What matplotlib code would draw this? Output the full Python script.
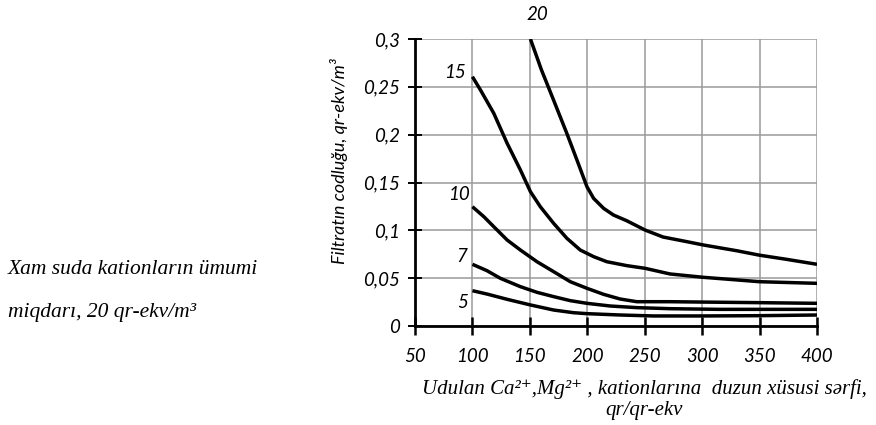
import matplotlib
matplotlib.use("Agg")
import matplotlib.pyplot as plt

# ---- data ----
x20 = [150.5, 160, 170.7, 182.3, 191, 199.7, 205.5, 214.2, 222.8, 234.4, 250.3, 266, 286.5, 301, 330, 350, 373.4, 400]
y20 = [0.300, 0.268, 0.236, 0.201, 0.1735, 0.1456, 0.1334, 0.123, 0.116, 0.110, 0.1003, 0.093, 0.0882, 0.0847, 0.0787, 0.074, 0.0697, 0.0645]

x15 = [100, 107, 118.6, 130.2, 141.8, 150.5, 159.1, 170.7, 182.3, 193.9, 205.5, 217, 234.4, 250.3, 272, 301, 350, 400]
y15 = [0.2606, 0.2467, 0.2223, 0.191, 0.163, 0.1404, 0.1247, 0.1073, 0.0916, 0.0794, 0.0725, 0.0672, 0.0631, 0.0603, 0.0544, 0.0509, 0.0463, 0.0446]

x10 = [100, 109.9, 118.6, 130.2, 141.8, 156.2, 170.7, 185.2, 199.7, 214.2, 228.6, 243.1, 272, 301, 350, 400]
y10 = [0.1247, 0.1143, 0.1038, 0.0899, 0.0794, 0.0672, 0.0568, 0.0463, 0.0394, 0.0331, 0.0282, 0.0254, 0.0254, 0.025, 0.0244, 0.0237]

x7 = [100, 112.7, 124.4, 141.8, 156.2, 170.7, 185.2, 199.7, 220, 243.1, 272, 315.5, 400]
y7 = [0.0645, 0.0578, 0.0498, 0.0411, 0.0352, 0.0307, 0.0265, 0.0237, 0.0209, 0.0192, 0.0181, 0.0174, 0.0174]

x5 = [100, 112.7, 130.2, 150.5, 170.7, 188, 199.7, 228.6, 257.6, 301, 350, 400]
y5 = [0.0369, 0.0334, 0.0279, 0.022, 0.0167, 0.0139, 0.0129, 0.0115, 0.0105, 0.0105, 0.0108, 0.0115]

curve_labels = ["20", "15", "10", "7", "5"]
xticks = [50, 100, 150, 200, 250, 300, 350, 400]
yticks = [0, 0.05, 0.1, 0.15, 0.2, 0.25, 0.3]
ytick_labels = ["0", "0,05", "0,1", "0,15", "0,2", "0,25", "0,3"]

sans = ['Lato', 'DejaVu Sans']
serif = ['Liberation Serif', 'DejaVu Serif']

W, H = 876, 425
fig = plt.figure(figsize=(W / 100, H / 100), dpi=100)
left, right, top, bottom = 415, 817, 39, 326
ax = fig.add_axes([left / W, 1 - bottom / H, (right - left) / W, (bottom - top) / H])

for xs, ys in [(x20, y20), (x15, y15), (x10, y10), (x7, y7), (x5, y5)]:
    ax.plot(xs, ys, color='black', lw=2.5, solid_capstyle='butt', solid_joinstyle='round', zorder=3)

ax.set_xlim(50, 400)
ax.set_ylim(0, 0.3)
ax.set_xticks(xticks)
ax.set_xticklabels([str(v) for v in xticks], family=sans, style='italic', fontsize=13.5)
ax.set_yticks(yticks)
ax.set_yticklabels(ytick_labels, family=sans, style='italic', fontsize=13.5)
ax.grid(True, color='#9a9a9a', lw=1.1, zorder=0)
ax.tick_params(axis='x', direction='inout', length=13, width=1.8, color='black', pad=9)
ax.tick_params(axis='y', direction='inout', length=10, width=1.4, color='black', pad=6)
for s in ['top', 'right']:
    ax.spines[s].set_visible(False)
for s in ['left', 'bottom']:
    ax.spines[s].set_linewidth(2.0)
    ax.spines[s].set_zorder(4)

# curve labels
lab_pos = [(537, 15), (455, 73), (459, 195), (462, 257), (463, 303)]
for t, (px, py) in zip(curve_labels, lab_pos):
    fig.text(px / W, 1 - py / H, t, family=sans, style='italic', fontsize=13.5,
             ha='center', va='center')

# y label
fig.text(339 / W, 1 - 161 / H, "Filtratın codluğu, qr-ekv/m³", family=sans, style='italic',
         fontsize=13, rotation=90, ha='center', va='center')

# x label
fig.text(644 / W, 1 - 389 / H,
         "Udulan Ca²⁺,Mg²⁺ , kationlarına  duzun xüsusi sərfi,",
         family=serif, style='italic', fontsize=15, ha='center', va='center')
fig.text(644 / W, 1 - 411 / H, "qr/qr-ekv", family=serif, style='italic',
         fontsize=15, ha='center', va='center')

# left note
fig.text(8 / W, 1 - 270 / H, "Xam suda kationların ümumi", family=serif, style='italic',
         fontsize=15.5, ha='left', va='center')
fig.text(8 / W, 1 - 313 / H, "miqdarı, 20 qr-ekv/m³", family=serif, style='italic',
         fontsize=15.5, ha='left', va='center')

fig.savefig("out.png", dpi=100)
